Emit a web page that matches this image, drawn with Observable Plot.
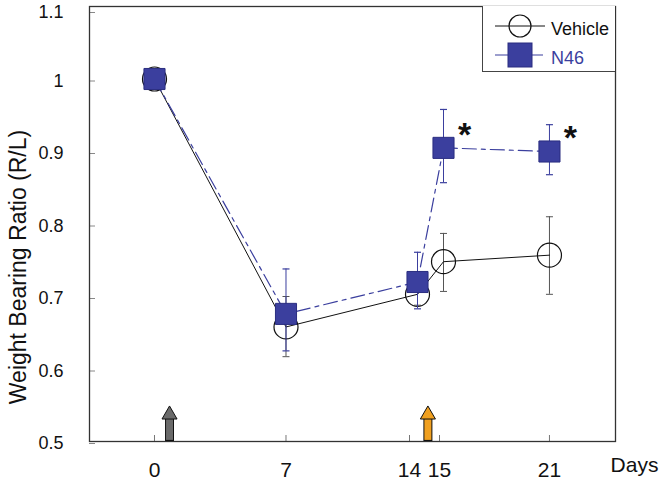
<!DOCTYPE html>
<html>
<head>
<meta charset="utf-8">
<script src="https://cdn.jsdelivr.net/npm/d3@7"></script>
<script src="https://cdn.jsdelivr.net/npm/@observablehq/plot@0.6"></script>
<style>
  body { margin: 0; background: #fff; }
  #wrap { position: relative; width: 661px; height: 486px; font-family: "Liberation Sans", Arial, sans-serif; }
  #legend { position: absolute; left: 482px; top: 6px; width: 133px; height: 66px; box-sizing: border-box;
            border-left: 1.3px solid #444; border-bottom: 1.3px solid #444; background: #fff; }
  #legend svg { position: absolute; left: 0; top: 0; }
</style>
</head>
<body>
<div id="wrap"></div>
<script>
// ---- data ----
const days = [0, 7, 14, 15, 21];
const vehicleMean = [1.0, 0.658, 0.703, 0.748, 0.757];
const vehicleLo   = [1.0, 0.617, 0.688, 0.707, 0.703];
const vehicleHi   = [1.0, 0.700, 0.718, 0.787, 0.810];
const n46Mean = [1.0, 0.676, 0.720, 0.905, 0.900];
const n46Lo   = [1.0, 0.625, 0.683, 0.857, 0.868];
const n46Hi   = [1.0, 0.738, 0.761, 0.958, 0.937];
const sigDays = [15, 21];               // asterisks (N46 vs vehicle)
const treatDays = [0.8, 14.4];          // treatment arrows
const treatColors = ["#6a6a6a", "#f0a020"];
const xTicksMain = [0, 7, 21];
const xTickLeft = [14];
const xTickRight = [15];
const yTicks = [0.5, 0.6, 0.7, 0.8, 0.9, 1];
const yTickTop = [1.1];
const seriesNames = ["Vehicle", "N46"];

const BLUE = "#3b3f9e";
const vehicle = days.map((d, i) => ({day: d, mean: vehicleMean[i], lo: vehicleLo[i], hi: vehicleHi[i]}));
const n46 = days.map((d, i) => ({day: d, mean: n46Mean[i], lo: n46Lo[i], hi: n46Hi[i]}));
const sig = n46.filter(d => sigDays.includes(d.day));
const treat = treatDays.map((d, i) => ({day: d, color: treatColors[i]}));

const cap = {draw(ctx) { ctx.moveTo(-3.5, 0); ctx.lineTo(3.5, 0); }};
const xAxisOpts = {tickSize: -6, tickPadding: 27, tickFormat: d => String(d),
                   fontSize: 21, stroke: "#777", fill: "#111", label: null};
const yAxisOpts = {tickSize: -6, tickPadding: 32, tickFormat: d => String(d),
                   fontSize: 18, stroke: "#888", fill: "#111", label: null};

const chart = Plot.plot({
  width: 661,
  height: 486,
  marginLeft: 89,
  marginRight: 46,
  marginTop: 6,
  marginBottom: 45,
  style: {fontFamily: '"Liberation Sans", Arial, sans-serif', color: "#111", background: "#fff"},
  x: {type: "linear", domain: [-3.46, 14, 15, 24.74], range: [89, 417, 443, 615]},
  y: {domain: [0.5, 1.1]},
  color: {type: "identity"},
  marks: [
    Plot.axisY({ticks: yTicks, ...yAxisOpts, dy: 2}),
    Plot.axisY({ticks: yTickTop, ...yAxisOpts, dy: 6}),
    Plot.axisX({ticks: xTicksMain, ...xAxisOpts}),
    Plot.axisX({ticks: xTickLeft, ...xAxisOpts, dx: -8}),
    Plot.axisX({ticks: xTickRight, ...xAxisOpts, dx: -4}),
    Plot.frame({stroke: "#333", strokeWidth: 1.3}),
    // treatment arrows
    Plot.ruleX(treat, {x: "day", y1: 0.5, y2: 0.532, stroke: "#111", strokeWidth: 9}),
    Plot.ruleX(treat, {x: "day", y1: 0.5015, y2: 0.532, stroke: "color", strokeWidth: 7}),
    Plot.dot(treat, {x: "day", y: 0.537, symbol: "triangle", r: 5.6, fill: "color", stroke: "#111", strokeWidth: 1}),
    // Vehicle
    Plot.ruleX(vehicle, {x: "day", y1: "lo", y2: "hi", stroke: "#555", strokeWidth: 1}),
    Plot.dot(vehicle, {x: "day", y: "lo", symbol: cap, fill: "none", stroke: "#555", strokeWidth: 1}),
    Plot.dot(vehicle, {x: "day", y: "hi", symbol: cap, fill: "none", stroke: "#555", strokeWidth: 1}),
    Plot.line(vehicle, {x: "day", y: "mean", stroke: "#111", strokeWidth: 1}),
    Plot.dot(vehicle, {x: "day", y: "mean", r: 12, fill: "none", stroke: "#111", strokeWidth: 1.2}),
    // N46
    Plot.ruleX(n46, {x: "day", y1: "lo", y2: "hi", stroke: BLUE, strokeWidth: 1}),
    Plot.dot(n46, {x: "day", y: "lo", symbol: cap, fill: "none", stroke: BLUE, strokeWidth: 1.2}),
    Plot.dot(n46, {x: "day", y: "hi", symbol: cap, fill: "none", stroke: BLUE, strokeWidth: 1.2}),
    Plot.line(n46, {x: "day", y: "mean", stroke: BLUE, strokeWidth: 1.2, strokeDasharray: "14,5,4,5"}),
    Plot.dot(n46, {x: "day", y: "mean", symbol: "square", r: 11.9, fill: BLUE, stroke: "#2a2d80", strokeWidth: 1}),
    // significance
    Plot.text(sig, {x: "day", y: "mean", text: () => "*", dx: 21, dy: -13, fontSize: 34, fontWeight: "bold", fill: "#111"}),
    // axis titles
    Plot.text(["Weight Bearing Ratio (R/L)"], {frameAnchor: "left", textAnchor: "middle", rotate: -90,
                dx: -71, dy: 43, fontSize: 23, fill: "#111", ariaLabel: "ylabel"}),
    Plot.text(["Days"], {frameAnchor: "bottom-right", textAnchor: "middle", dx: 19, dy: 30, fontSize: 21, fill: "#111"})
  ]
});

d3.select(chart).selectAll('g[aria-label="ylabel"] text').style("letter-spacing", "2.6px");

const wrap = document.getElementById("wrap");
wrap.appendChild(chart);

// legend
const legend = document.createElement("div");
legend.id = "legend";
legend.innerHTML = `
<svg width="133" height="66">
  <line x1="12" x2="62" y1="20" y2="20" stroke="#111" stroke-width="1"/>
  <circle cx="37" cy="20" r="11" fill="none" stroke="#111" stroke-width="1.2"/>
  <text x="68" y="29" font-size="18" fill="#111">${seriesNames[0]}</text>
  <line x1="12" x2="60" y1="49" y2="49" stroke="${BLUE}" stroke-width="1.2"/>
  <rect x="25" y="37" width="24" height="24" fill="${BLUE}" stroke="#2a2d80"/>
  <text x="68" y="58" font-size="18" fill="${BLUE}">${seriesNames[1]}</text>
</svg>`;
wrap.appendChild(legend);
</script>
</body>
</html>
